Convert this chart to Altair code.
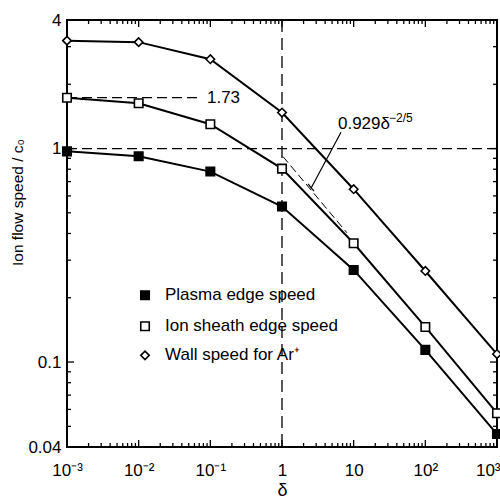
import altair as alt
import pandas as pd

# ---------------- data ----------------
delta = [1e-3, 1e-2, 1e-1, 1, 10, 100, 1000]
plasma_edge = [0.97, 0.92, 0.78, 0.535, 0.27, 0.114, 0.046]
sheath_edge = [1.73, 1.63, 1.30, 0.805, 0.36, 0.146, 0.0576]
wall_speed = [3.2, 3.15, 2.62, 1.475, 0.645, 0.267, 0.109]
series_names = ["Plasma edge speed", "Ion sheath edge speed", "Wall speed for Ar\u207a"]

x_label_values = [1e-3, 1e-2, 1e-1, 1, 10, 100, 1000]
x_label_text = ["10\u207b\u00b3", "10\u207b\u00b2", "10\u207b\u00b9", "1", "10", "10\u00b2", "10\u00b3"]
y_label_values = [0.04, 0.1, 1, 4]

x_major_ticks = [1e-3, 1e-2, 1e-1, 1, 10, 100, 1000]
x_minor_ticks = [m * 10.0 ** e for e in range(-3, 3) for m in range(2, 10)]
y_major_ticks = [0.1, 1]
y_minor_ticks = [0.05, 0.06, 0.07, 0.08, 0.09,
                 0.2, 0.3, 0.4, 0.5, 0.6, 0.7, 0.8, 0.9, 2, 3]

# fit line 0.929 delta^(-2/5), end points
fit_delta = [1.03, 8.06]
fit_speed = [0.918, 0.403]

guide_173_x = [0.001, 0.0733]
guide_173_y = 1.73

leader = {"x": [6.66], "y": [1.192], "x2": [2.54], "y2": [0.652]}
crossbar = {"x": [2.307], "y": [0.684], "x2": [2.797], "y2": [0.631]}

legend_x = 0.01226
legend_text_x = 0.02331
legend_y = [0.2054, 0.1470, 0.1075]

FONT = "Liberation Sans"
W, H = 430, 427

rows = []
for name, vals in zip(series_names, [plasma_edge, sheath_edge, wall_speed]):
    for d, v in zip(delta, vals):
        rows.append({"series": name, "delta": d, "speed": v})
df = pd.DataFrame(rows)

legend_df = pd.DataFrame({"series": series_names, "lx": [legend_x] * 3,
                          "tx": [legend_text_x] * 3, "ly": legend_y})

xsc = alt.Scale(type="log", domain=[1e-3, 1e3], nice=False)
ysc = alt.Scale(type="log", domain=[0.04, 4], nice=False)

shape_sc = alt.Scale(domain=series_names, range=["square", "square", "diamond"])
fill_sc = alt.Scale(domain=series_names, range=["black", "white", "white"])
size_sc = alt.Scale(domain=series_names, range=[72, 72, 140])

x_expr = " : ".join(f"datum.value < {v * 1.8:.6g} ? '{l}'"
                    for v, l in zip(x_label_values[:-1], x_label_text[:-1])) \
    + f" : '{x_label_text[-1]}'"

XAX = alt.Axis(values=x_label_values, labelExpr=x_expr,
               ticks=False, domain=False, grid=False, labelFlush=False,
               labelOverlap=False, labelFont=FONT, labelFontSize=17, labelColor="black",
               labelPadding=15,
               labelAlign=alt.condition("datum.value > 500", alt.value("right"),
                                        alt.value("center")),
               labelOffset=alt.condition("datum.value > 500", alt.value(3), alt.value(0)),
               title="\u03b4", titleFont=FONT, titleFontSize=18,
               titleFontWeight="normal", titleColor="black",
               titleX=215, titleY=48, titleBaseline="alphabetic")
YAX = alt.Axis(values=y_label_values, format="~g",
               ticks=False, domain=False, grid=False, labelFlush=False,
               labelOverlap=False, labelFont=FONT, labelFontSize=17, labelColor="black",
               labelPadding=6, title="Ion flow speed / c\u2080", titleFont=FONT,
               titleFontSize=15.5, titleFontWeight="normal", titleColor="black",
               titleX=-45, titleY=182, titleBaseline="alphabetic", titleAngle=270)


def X(f):
    return alt.X(f, scale=xsc, axis=XAX)


def Y(f):
    return alt.Y(f, scale=ysc, axis=YAX)


base = alt.Chart(df)

lines = base.mark_line(color="black", strokeWidth=2).encode(
    x=X("delta:Q"), y=Y("speed:Q"), detail="series:N")

points = base.mark_point(filled=True, stroke="black", strokeWidth=1.6, opacity=1).encode(
    x=X("delta:Q"), y=Y("speed:Q"),
    shape=alt.Shape("series:N", scale=shape_sc, legend=None),
    fill=alt.Fill("series:N", scale=fill_sc, legend=None),
    size=alt.Size("series:N", scale=size_sc, legend=None),
)

dash_main = [10, 5]
h1 = alt.Chart(pd.DataFrame({"y": [1]})).mark_rule(
    color="black", strokeWidth=1.3, strokeDash=dash_main).encode(y=Y("y:Q"))
v1 = alt.Chart(pd.DataFrame({"x": [1]})).mark_rule(
    color="black", strokeWidth=1.3, strokeDash=[12, 6]).encode(x=X("x:Q"))
h173 = alt.Chart(pd.DataFrame({"x": [guide_173_x[0]], "x2": [guide_173_x[1]],
                               "y": [guide_173_y]})).mark_rule(
    color="black", strokeWidth=1.3, strokeDash=dash_main).encode(
    x=X("x:Q"), x2="x2:Q", y=Y("y:Q"))
t173 = alt.Chart(pd.DataFrame({"x": [0.0897], "y": [guide_173_y], "t": ["1.73"]})).mark_text(
    align="left", baseline="middle", font=FONT, fontSize=17, color="black").encode(
    x=X("x:Q"), y=Y("y:Q"), text="t:N")

fit = alt.Chart(pd.DataFrame({"delta": fit_delta, "speed": fit_speed})).mark_line(
    color="black", strokeWidth=1, strokeDash=[8, 4]).encode(x=X("delta:Q"), y=Y("speed:Q"))

lead = alt.Chart(pd.DataFrame(leader)).mark_rule(color="black", strokeWidth=1.2).encode(
    x=X("x:Q"), x2="x2:Q", y=Y("y:Q"), y2="y2:Q")
cross = alt.Chart(pd.DataFrame(crossbar)).mark_rule(color="black", strokeWidth=1.2).encode(
    x=X("x:Q"), x2="x2:Q", y=Y("y:Q"), y2="y2:Q")

fit_label = alt.Chart(pd.DataFrame({"x": [6.04], "y": [1.231], "t": ["0.929\u03b4"]})).mark_text(
    align="left", baseline="alphabetic", font=FONT, fontSize=17, color="black").encode(
    x=X("x:Q"), y=Y("y:Q"), text="t:N")
fit_exp = alt.Chart(pd.DataFrame({"x": [31.1], "y": [1.328], "t": ["\u22122/5"]})).mark_text(
    align="left", baseline="alphabetic", font=FONT, fontSize=12, color="black").encode(
    x=X("x:Q"), y=Y("y:Q"), text="t:N")

MAJ, MIN = 7, 4


def xticks(vals, length, top):
    y0, y1 = (0, length) if top else (H, H - length)
    return alt.Chart(pd.DataFrame({"v": vals})).mark_rule(color="black", strokeWidth=1.3).encode(
        x=X("v:Q"), y=alt.value(y0), y2=alt.value(y1))


def yticks(vals, length, right):
    x0, x1 = (W, W - length) if right else (0, length)
    return alt.Chart(pd.DataFrame({"v": vals})).mark_rule(color="black", strokeWidth=1.3).encode(
        y=Y("v:Q"), x=alt.value(x0), x2=alt.value(x1))


ticks = [xticks(x_major_ticks, MAJ, False), xticks(x_minor_ticks, MIN, False),
         xticks(x_major_ticks, MAJ, True), xticks(x_minor_ticks, MIN, True),
         yticks(y_major_ticks, MAJ, False), yticks(y_minor_ticks, MIN, False),
         yticks(y_major_ticks, MAJ, True), yticks(y_minor_ticks, MIN, True)]

leg_pts = alt.Chart(legend_df).mark_point(filled=True, stroke="black", strokeWidth=1.6,
                                          opacity=1).encode(
    x=X("lx:Q"), y=Y("ly:Q"),
    shape=alt.Shape("series:N", scale=shape_sc, legend=None),
    fill=alt.Fill("series:N", scale=fill_sc, legend=None),
    size=alt.Size("series:N", scale=size_sc, legend=None),
)
leg_txt = alt.Chart(legend_df).mark_text(align="left", baseline="middle", font=FONT,
                                         fontSize=17, color="black").encode(
    x=X("tx:Q"), y=Y("ly:Q"), text="series:N")

chart = alt.layer(
    lines, h1, v1, h173, t173, fit, lead, cross, fit_label, fit_exp,
    *ticks, points, leg_pts, leg_txt,
).properties(
    width=W, height=H,
    padding={"left": 67, "top": 20, "right": 3, "bottom": 52},
    autosize=alt.AutoSizeParams(type="none"),
    background="white",
).configure_view(stroke="black", strokeWidth=2)

chart.save("out.html", embed_options={"renderer": "svg", "actions": False})
